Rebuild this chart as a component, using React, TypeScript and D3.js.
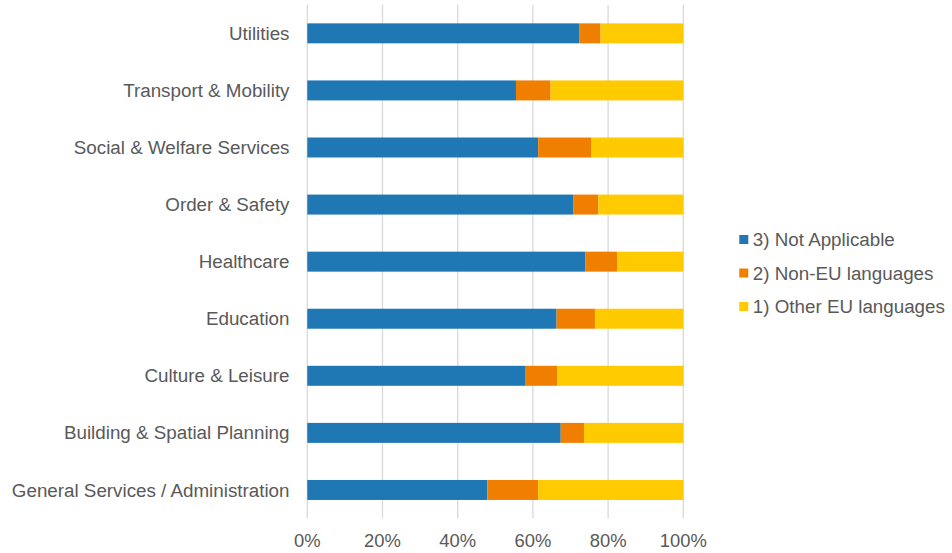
import React from "react";
import * as d3 from "d3";

const categories = [
  "Utilities",
  "Transport & Mobility",
  "Social & Welfare Services",
  "Order & Safety",
  "Healthcare",
  "Education",
  "Culture & Leisure",
  "Building & Spatial Planning",
  "General Services / Administration",
];
const notApplicable = [72.3, 55.5, 61.4, 70.7, 73.9, 66.3, 57.9, 67.4, 47.9];
const nonEU = [5.7, 9.2, 14.2, 6.7, 8.5, 10.2, 8.6, 6.2, 13.5];
const otherEU = [22.0, 35.3, 24.4, 22.6, 17.6, 23.5, 33.5, 26.4, 38.6];
const seriesNames = ["3) Not Applicable", "2) Non-EU languages", "1) Other EU languages"];
const seriesColors = ["#1f77b4", "#f07f00", "#ffca00"];
const xTicks = [0, 20, 40, 60, 80, 100];

const W = 952;
const H = 553;
const left = 307.3;
const right = 683.3;
const top = 4.8;
const bottom = 518.5;
const font = "'Liberation Sans', Arial, sans-serif";
const textColor = "#595959";
const fs = 18.8;

export default function App() {
  const x = d3.scaleLinear().domain([0, 100]).range([left, right]);
  const y = d3.scaleBand<string>().domain(categories).range([top, bottom]).paddingInner(0.65).paddingOuter(0.325);
  const rows = categories.map((c, i) => {
    const vals = [notApplicable[i], nonEU[i], otherEU[i]];
    const sum = vals.reduce((a, b) => a + b, 0);
    let acc = 0;
    return vals.map((v) => {
      const p = (v / sum) * 100;
      const s = { x0: acc, x1: acc + p };
      acc += p;
      return s;
    });
  });
  return (
    <svg width={W} height={H} style={{ position: "absolute", left: 0, top: 0, background: "#fff" }} fontFamily={font}>
      {xTicks.map((t) => (
        <line key={t} x1={x(t)} x2={x(t)} y1={top} y2={bottom} stroke="#d9d9d9" strokeWidth={1.3} />
      ))}
      {rows.map((segs, i) =>
        segs.map((s, j) => (
          <rect
            key={i + "-" + j}
            x={x(s.x0)}
            y={y(categories[i])!}
            width={x(s.x1) - x(s.x0)}
            height={y.bandwidth()}
            fill={seriesColors[j]}
          />
        ))
      )}
      {categories.map((c) => (
        <text key={c} x={289.5} y={y(c)! + y.bandwidth() / 2} dy="0.35em" textAnchor="end" fontSize={fs} fill={textColor}>
          {c}
        </text>
      ))}
      {xTicks.map((t) => (
        <text key={t} x={x(t)} y={541} dy="0.35em" textAnchor="middle" fontSize={18.4} fill={textColor}>
          {t + "%"}
        </text>
      ))}
      {seriesNames.map((n, i) => (
        <g key={n} transform={`translate(739.3, ${239.5 + i * 33.5})`}>
          <rect x={0} y={-4.5} width={9} height={9} fill={seriesColors[i]} />
          <text x={13.5} y={0} dy="0.35em" fontSize={fs} fill={textColor}>
            {n}
          </text>
        </g>
      ))}
    </svg>
  );
}
